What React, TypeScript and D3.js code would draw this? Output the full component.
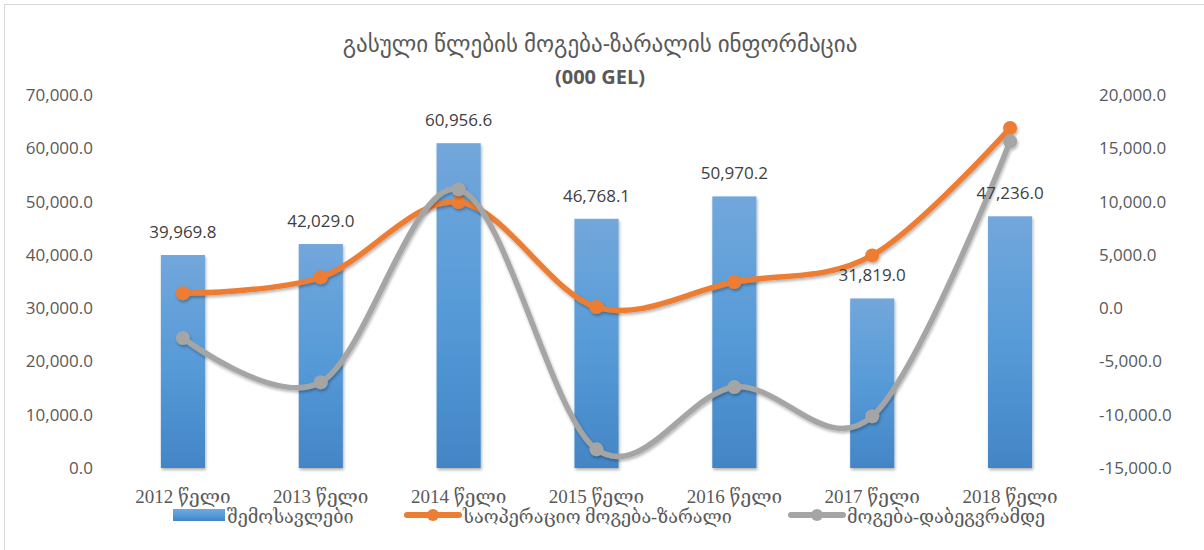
import { useEffect, useRef } from "react";
import * as d3 from "d3";

const years = ["2012 წელი", "2013 წელი", "2014 წელი", "2015 წელი", "2016 წელი", "2017 წელი", "2018 წელი"];
const revenue = [39969.8, 42029.0, 60956.6, 46768.1, 50970.2, 31819.0, 47236.0];
const operatingPL = [1400, 2900, 9950, 100, 2450, 4950, 16900];
const preTaxPL = [-2800, -6950, 11150, -13250, -7400, -10150, 15650];
const leftTicks = [0, 10000, 20000, 30000, 40000, 50000, 60000, 70000];
const rightTicks = [-15000, -10000, -5000, 0, 5000, 10000, 15000, 20000];
const seriesNames = ["შემოსავლები", "საოპერაციო მოგება-ზარალი", "მოგება-დაბეგვრამდე"];

export default function App() {
  const ref = useRef<HTMLDivElement>(null);

  useEffect(() => {
    document.body.style.margin = "0";
    const width = 1204;
    const height = 550;
    const top = 95;
    const bottom = 468;

    const fmt = d3.formatLocale({
      decimal: ".",
      thousands: ",",
      grouping: [3],
      currency: ["", ""],
      minus: "-",
    }).format(",.1f");

    const x = d3.scaleBand().domain(years).range([114, 1079]).paddingInner(0.68).paddingOuter(0.34);
    const yL = d3.scaleLinear().domain([0, 70000]).range([bottom, top]);
    const yR = d3.scaleLinear().domain([-15000, 20000]).range([bottom, top]);
    const cx = (d: string) => (x(d) ?? 0) + x.bandwidth() / 2;

    d3.select(ref.current).selectAll("*").remove();
    const svg = d3
      .select(ref.current)
      .append("svg")
      .attr("width", width)
      .attr("height", height)
      .style("display", "block")
      .style("font-family", "'Open Sans', 'DejaVu Sans', sans-serif");

    const defs = svg.append("defs");
    const grad = defs
      .append("linearGradient")
      .attr("id", "barGrad")
      .attr("x1", 0)
      .attr("y1", 0)
      .attr("x2", 0)
      .attr("y2", 1);
    grad.append("stop").attr("offset", "0%").attr("stop-color", "#72a7db");
    grad.append("stop").attr("offset", "50%").attr("stop-color", "#579bd8");
    grad.append("stop").attr("offset", "100%").attr("stop-color", "#4385c6");

    const shadow = defs.append("filter").attr("id", "shadow").attr("x", "-20%").attr("y", "-20%").attr("width", "140%").attr("height", "140%");
    shadow
      .append("feDropShadow")
      .attr("dx", 1)
      .attr("dy", 2)
      .attr("stdDeviation", 1.5)
      .attr("flood-color", "#000")
      .attr("flood-opacity", 0.3);

    // chart border (only top/left visible)
    svg
      .append("rect")
      .attr("x", 4.5)
      .attr("y", 4.5)
      .attr("width", 1230)
      .attr("height", 600)
      .attr("fill", "none")
      .attr("stroke", "#d9d9d9");

    // title
    const title = svg.append("text").attr("text-anchor", "middle").attr("fill", "#595959");
    title.append("tspan").attr("x", 600).attr("y", 52).attr("font-size", 23).text("გასული წლების მოგება-ზარალის ინფორმაცია");
    title.append("tspan").attr("x", 600).attr("y", 84).attr("font-size", 20).attr("font-weight", "bold").text("(000 GEL)");

    // axes labels
    svg
      .append("g")
      .selectAll("text")
      .data(leftTicks)
      .join("text")
      .attr("x", 93)
      .attr("y", (d) => yL(d))
      .attr("dy", "0.35em")
      .attr("text-anchor", "end")
      .attr("font-size", 17)
      .attr("fill", "#595959")
      .text((d) => fmt(d));

    svg
      .append("g")
      .selectAll("text")
      .data(rightTicks)
      .join("text")
      .attr("x", 1099)
      .attr("y", (d) => yR(d))
      .attr("dy", "0.35em")
      .attr("text-anchor", "start")
      .attr("font-size", 17)
      .attr("fill", "#595959")
      .text((d) => fmt(d));

    // bars
    svg
      .append("g")
      .attr("filter", "url(#shadow)")
      .selectAll("rect")
      .data(revenue)
      .join("rect")
      .attr("x", (_, i) => x(years[i]) ?? 0)
      .attr("y", (d) => yL(d))
      .attr("width", x.bandwidth())
      .attr("height", (d) => yL(0) - yL(d))
      .attr("fill", "url(#barGrad)");

    // lines
    const line = d3
      .line<number>()
      .x((_, i) => cx(years[i]))
      .y((d) => yR(d))
      .curve(d3.curveCardinal.tension(0));

    const drawSeries = (values: number[], color: string) => {
      const g = svg.append("g").attr("filter", "url(#shadow)");
      g.append("path")
        .attr("d", line(values))
        .attr("fill", "none")
        .attr("stroke", color)
        .attr("stroke-width", 5.5)
        .attr("stroke-linecap", "round");
      g.selectAll("circle")
        .data(values)
        .join("circle")
        .attr("cx", (_, i) => cx(years[i]))
        .attr("cy", (d) => yR(d))
        .attr("r", 7)
        .attr("fill", color);
    };
    drawSeries(operatingPL, "#ed7d31");
    drawSeries(preTaxPL, "#a5a5a5");

    // bar value labels (drawn over the lines)
    svg
      .append("g")
      .selectAll("text")
      .data(revenue)
      .join("text")
      .attr("x", (_, i) => cx(years[i]))
      .attr("y", (d) => yL(d) - 17)
      .attr("text-anchor", "middle")
      .attr("font-size", 17)
      .attr("fill", "#404040")
      .text((d) => fmt(d));

    // category labels
    svg
      .append("g")
      .selectAll("text")
      .data(years)
      .join("text")
      .attr("x", (d) => cx(d))
      .attr("y", 503)
      .attr("text-anchor", "middle")
      .attr("font-family", "'Liberation Serif', 'DejaVu Serif', serif")
      .attr("font-size", 19)
      .attr("fill", "#595959")
      .text((d) => d);

    // legend
    const legend = svg
      .append("g")
      .attr("font-family", "'Liberation Serif', 'DejaVu Serif', serif")
      .attr("font-size", 18)
      .attr("fill", "#595959");
    legend.append("rect").attr("x", 173).attr("y", 509).attr("width", 52).attr("height", 12).attr("fill", "url(#barGrad)");
    legend.append("text").attr("x", 227).attr("y", 523).text(seriesNames[0]);

    const legendLine = (x0: number, color: string, label: string) => {
      legend
        .append("line")
        .attr("x1", x0 + 2)
        .attr("x2", x0 + 54)
        .attr("y1", 515)
        .attr("y2", 515)
        .attr("stroke", color)
        .attr("stroke-width", 6)
        .attr("stroke-linecap", "round");
      legend.append("circle").attr("cx", x0 + 28).attr("cy", 515).attr("r", 6).attr("fill", color);
      legend.append("text").attr("x", x0 + 58).attr("y", 523).text(label);
    };
    legendLine(405, "#ed7d31", seriesNames[1]);
    legendLine(789, "#a5a5a5", seriesNames[2]);
  }, []);

  return <div ref={ref} />;
}
